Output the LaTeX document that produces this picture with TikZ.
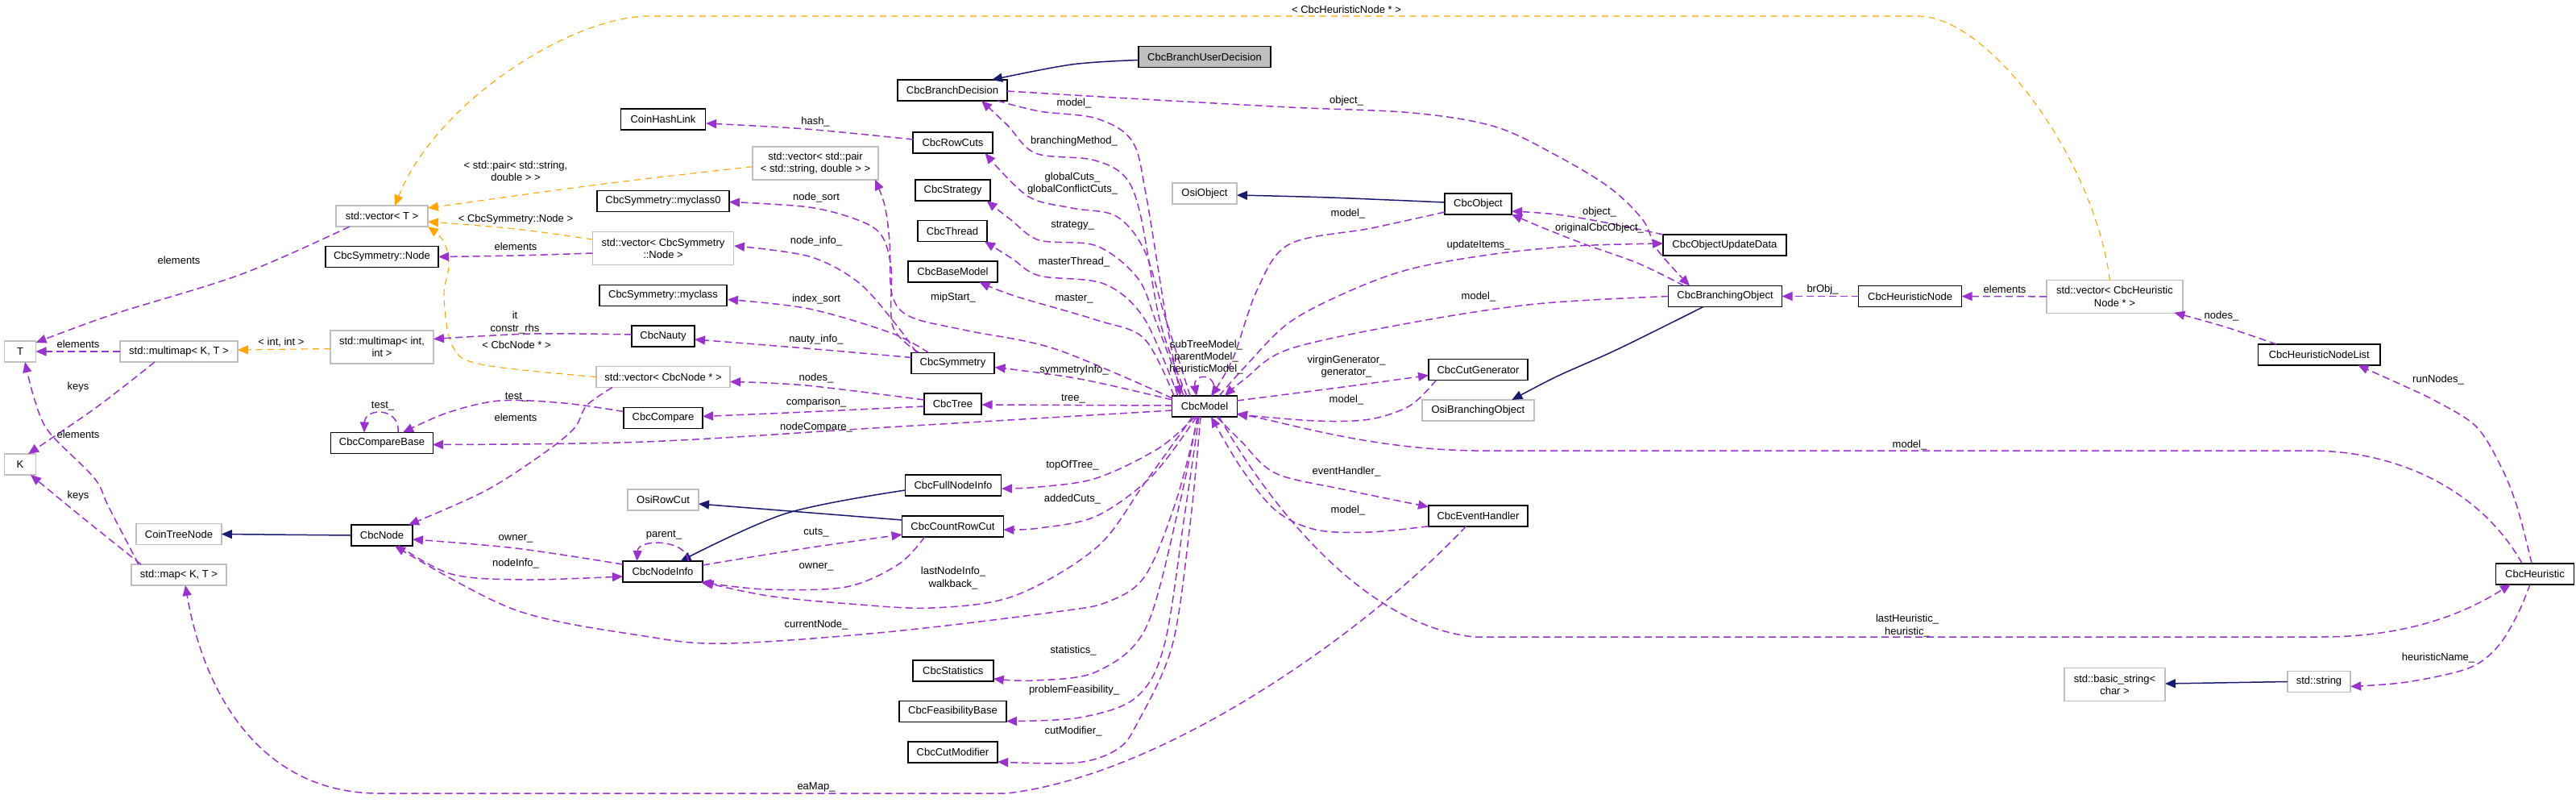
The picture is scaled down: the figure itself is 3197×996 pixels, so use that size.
\documentclass[tikz,border=0pt]{standalone}
\usepackage{fontspec}
\setmainfont{Liberation Sans}
\usetikzlibrary{arrows.meta,calc}
\definecolor{usec}{HTML}{9A32CD}
\definecolor{tmpl}{HTML}{FFA500}
\definecolor{inhc}{HTML}{191970}
\definecolor{graybd}{HTML}{BFBFBF}
\newcommand\dgfont{\fontsize{6.5pt}{7.6pt}\selectfont}
\tikzset{
 cls/.style={draw=black, line width=0.8pt, fill=white, minimum height=13pt, inner sep=0pt, font=\dgfont, minimum width=#1*0.5pt},
 ext/.style={cls=#1, draw=graybd},
 ext2/.style={ext=#1, minimum height=20.5pt, align=center},
 lbl/.style={font=\dgfont, inner sep=0pt, align=center},
 arrtip/.style={-{Triangle[length=6.5pt,width=5.5pt]}},
 uedge/.style={draw=usec, line width=0.75pt, dash pattern=on 4.5pt off 2.5pt, arrtip},
 tedge/.style={draw=tmpl, line width=0.55pt, dash pattern=on 4pt off 3pt, arrtip},
 iedge/.style={draw=inhc, line width=0.75pt, arrtip},
 sm/.style={smooth, tension=0.55}
}
\begin{document}
\begin{tikzpicture}[x=0.5pt,y=-0.5pt]
\fill[white] (0,0) rectangle (3197,996);
\useasboundingbox (0,0) rectangle (3197,996);
% ---------- nodes ----------
\node[ext=39] (T) at (25,436) {T};
\node[ext=39] (K) at (25,576) {K};
\node[ext=146] (mmKT) at (222,436) {std::multimap< K, T >};
\node[ext=118] (mapKT) at (222,713) {std::map< K, T >};
\node[ext=106] (ctn) at (222,662.5) {CoinTreeNode};
\node[ext=114] (vecT) at (474,268) {std::vector< T >};
\node[cls=140] (symnode) at (474,318.5) {CbcSymmetry::Node};
\node[ext2=128] (mmii) at (474,430.5) {std::multimap< int,\\ int >};
\node[cls=127] (ccb) at (474,549.5) {CbcCompareBase};
\node[cls=76] (cnode) at (474,664) {CbcNode};
\node[cls=105] (chl) at (823,148) {CoinHashLink};
\node[ext2=156] (vpair) at (1012,202.7) {std::vector< std::pair\\< std::string, double > >};
\node[cls=164] (myc0) at (823,249.5) {CbcSymmetry::myclass0};
\node[ext2=175] (vsymn) at (823,308) {std::vector< CbcSymmetry\\::Node >};
\node[cls=158] (myc) at (823,366.5) {CbcSymmetry::myclass};
\node[cls=78] (nauty) at (823,417) {CbcNauty};
\node[ext=166] (vcn) at (823,467.5) {std::vector< CbcNode * >};
\node[cls=98] (cmp) at (823,518.5) {CbcCompare};
\node[ext=88] (orc) at (823,620) {OsiRowCut};
\node[cls=99] (cni) at (822.5,709) {CbcNodeInfo};
\node[cls=164, fill=graybd] (cbud) at (1495,70.5) {CbcBranchUserDecision};
\node[cls=136] (cbd) at (1182,112) {CbcBranchDecision};
\node[cls=99] (crc) at (1182.5,177) {CbcRowCuts};
\node[cls=93] (strat) at (1182.5,236) {CbcStrategy};
\node[cls=86] (thread) at (1182,286.5) {CbcThread};
\node[cls=111] (base) at (1182.5,337) {CbcBaseModel};
\node[cls=103] (sym) at (1182.5,450.5) {CbcSymmetry};
\node[cls=71] (tree) at (1182.5,501) {CbcTree};
\node[cls=119] (cfni) at (1183,602) {CbcFullNodeInfo};
\node[cls=126] (ccrc) at (1182.5,653) {CbcCountRowCut};
\node[cls=100] (stats) at (1182.7,832) {CbcStatistics};
\node[cls=133] (feas) at (1182.5,882.5) {CbcFeasibilityBase};
\node[cls=111] (cutmod) at (1182.5,933) {CbcCutModifier};
\node[ext=80] (osiobj) at (1495,240) {OsiObject};
\node[cls=81] (model) at (1495,504) {CbcModel};
\node[cls=83] (obj) at (1834.5,253) {CbcObject};
\node[cls=123] (ccg) at (1834.5,458.5) {CbcCutGenerator};
\node[ext=139] (obo) at (1834.4,509) {OsiBranchingObject};
\node[cls=123] (ceh) at (1834.5,639.7) {CbcEventHandler};
\node[cls=153] (coud) at (2140.4,304) {CbcObjectUpdateData};
\node[cls=141] (cbo) at (2141,367.5) {CbcBranchingObject};
\node[cls=128] (chn) at (2370.6,367.5) {CbcHeuristicNode};
\node[ext2=169] (vchn) at (2624.4,367.8) {std::vector< CbcHeuristic\\Node * >};
\node[cls=151.5] (chnl) at (2878.3,440) {CbcHeuristicNodeList};
\node[cls=97] (heur) at (3146,711.7) {CbcHeuristic};
\node[ext2=125] (bstr) at (2624.5,849) {std::basic\_string<\\ char >};
\node[ext=78.5] (str) at (2878,845.5) {std::string};
% ---------- inheritance ----------
\draw[iedge] plot[sm] coordinates {($(cbud)+(-82,4)$) (1330,80) ($(cbd)+(49,-13)$)};
\draw[iedge] ($(cnode)+(-38,0)$) -- ($(ctn)+(53,0)$);
\draw[iedge] plot[sm] coordinates {($(cfni)+(-59.5,6)$) (975,637) ($(cni)+(22,-13)$)};
\draw[iedge] ($(ccrc)+(-63,-8)$) -- ($(orc)+(44,5)$);
\draw[iedge] ($(str)+(-39.25,0)$) -- ($(bstr)+(62.5,-1)$);
\draw[iedge] plot[sm] coordinates {($(cbo)+(-27,13)$) (2008,433) (1932,467) ($(obo)+(42,-13)$)};
\draw[iedge] plot[sm] coordinates {($(obj)+(-41.5,-2)$) (1650,245) ($(osiobj)+(40,2)$)};
% ---------- template edges ----------
\draw[tedge] ($(vchn)+(-6,-20)$) .. controls (2600,200) and (2470,20) .. (2380,20) -- (800,20) .. controls (700,25) and (540,130) .. ($(vecT)+(16,-13)$);
\draw[tedge] plot[sm] coordinates {($(vcn)+(-83,0)$) (597,452) (561,428) (551,367) (557,330) (551,300) ($(vecT)+(57,13)$)};
\draw[tedge] plot[sm] coordinates {($(vsymn)+(-87.5,-11)$) (640,284) ($(vecT)+(57,7)$)};
\draw[tedge] plot[sm] coordinates {($(vpair)+(-78,4)$) (750,228) ($(vecT)+(57,-10)$)};
\draw[tedge] ($(mmii)+(-64,2)$) -- ($(mmKT)+(73,-2)$);
% ---------- usage edges ----------
\draw[uedge] plot[sm] coordinates {($(cbd)+(56,13)$) (1290,138) (1361,147) (1405,175) (1422,240) (1448,400) ($(model)+(-30,-13)$)};
\draw[uedge] plot[sm] coordinates {($(model)+(-22,-13)$) (1440,400) (1415,265) (1395,218) (1355,198) (1285,190) (1250,155) ($(cbd)+(36,13)$)};
\draw[uedge] plot[sm] coordinates {($(model)+(-18,-13)$) (1445,390) (1420,310) (1385,268) (1330,258) (1275,243) ($(crc)+(40,13)$)};
\draw[uedge] plot[sm] coordinates {($(model)+(-26,-13)$) (1435,400) (1412,345) (1361,305) (1290,298) (1255,273) ($(strat)+(42,13)$)};
\draw[uedge] plot[sm] coordinates {($(model)+(-33,-13)$) (1420,395) (1370,352) (1290,342) (1255,320) ($(thread)+(40,13)$)};
\draw[uedge] plot[sm] coordinates {($(model)+(-38,-13)$) (1420,420) (1361,397) (1259,367) ($(base)+(33,13)$)};
\draw[uedge] plot[sm] coordinates {($(model)+(-40,-8)$) (1340,470) ($(sym)+(52,5)$)};
\draw[uedge] ($(model)+(-40,-1)$) -- ($(tree)+(36,1)$);
\draw[uedge] plot[sm] coordinates {($(model)+(-40,5)$) (1100,530) (800,548) ($(ccb)+(63,2)$)};
\draw[uedge] plot[sm] coordinates {($(model)+(-40,-10)$) (1310,433) (1200,410) (1130,393) (1107,365) (1104,300) (1098,255) ($(vpair)+(74,20)$)};
\draw[uedge] plot[sm] coordinates {($(sym)+(-45,-13)$) (1110,400) (1065,350) (1004,318) ($(vsymn)+(88,-3)$)};
\draw[uedge] plot[sm] coordinates {($(sym)+(-42,-13)$) (1108,405) (1106,333) (1094,292) (1065,273) (1004,257) ($(myc0)+(82,1)$)};
\draw[uedge] plot[sm] coordinates {($(sym)+(-30,-13)$) (1106,413) (1004,383) ($(myc)+(80,5)$)};
\draw[uedge] plot[sm] coordinates {($(sym)+(-51,-7)$) (1000,432) ($(nauty)+(39,4)$)};
\draw[uedge] plot[sm] coordinates {($(crc)+(-49,-4)$) (1000,160) ($(chl)+(53,5)$)};
\draw[uedge] plot[sm] coordinates {($(tree)+(-35.5,-5)$) (1000,478) ($(vcn)+(83,6)$)};
\draw[uedge] plot[sm] coordinates {($(tree)+(-35.5,3)$) (1000,511) ($(cmp)+(49,-2)$)};
\draw[uedge] plot[sm] coordinates {($(cmp)+(-49,-8)$) (700,500) (620,497) (555,512) ($(ccb)+(26,-13)$)};
\draw[uedge] ($(ccb)+(20,-13)$) .. controls (497,505) and (453,505) .. ($(ccb)+(-22,-13)$);
\draw[uedge] plot[sm] coordinates {($(vcn)+(-63,13)$) (728,503) (712,532) (668,567) (600,610) ($(cnode)+(33,-13)$)};
\draw[uedge] plot[sm] coordinates {($(nauty)+(-39,-2)$) (660,414) ($(mmii)+(64,-10)$)};
\draw[uedge] plot[sm] coordinates {($(vsymn)+(-87.5,6)$) (640,317) ($(symnode)+(70,0)$)};
\draw[uedge] plot[sm] coordinates {($(vecT)+(-40,13)$) (300,340) (140,390) ($(T)+(19.5,-11)$)};
\draw[uedge] ($(mmKT)+(-73,0)$) -- ($(T)+(19.5,0)$);
\draw[uedge] plot[sm] coordinates {($(mmKT)+(-30,13)$) (120,505) ($(K)+(10,-13)$)};
\draw[uedge] plot[sm] coordinates {($(mapKT)+(-47,-13)$) (100,640) ($(K)+(13,13)$)};
\draw[uedge] plot[sm] coordinates {($(mapKT)+(-50,-13)$) (135,629) (117,593) (61,536) (43,496) ($(T)+(6,13)$)};
\draw[uedge] plot[sm] coordinates {($(cni)+(-49.5,-9)$) (640,680) ($(cnode)+(38,5)$)};
\draw[uedge] plot[sm] coordinates {($(cnode)+(21,13)$) (560,712) (650,719) ($(cni)+(-49.5,6)$)};
\draw[uedge] ($(cni)+(32,-13)$) .. controls (852,668) and (792,668) .. ($(cni)+(-32,-13)$);
\draw[uedge] plot[sm] coordinates {($(cni)+(49.5,-8)$) (1000,680) ($(ccrc)+(-63,10)$)};
\draw[uedge] plot[sm] coordinates {($(ccrc)+(-35,13)$) (1115,700) (1050,728) (950,731) ($(cni)+(47,13)$)};
\draw[uedge] plot[sm] coordinates {($(model)+(-15,13)$) (1420,600) (1361,679) (1259,739) (1157,754) (1055,749) (953,739) ($(cni)+(50,13)$)};
\draw[uedge] plot[sm] coordinates {($(model)+(-8,13)$) (1460,620) (1422,713) (1376,746) (1310,759) (1100,784) (902,798) (800,789) (638,756) ($(cnode)+(16,13)$)};
\draw[uedge] plot[sm] coordinates {($(model)+(-12,13)$) (1438,556) (1361,593) (1290,604) ($(cfni)+(60,4)$)};
\draw[uedge] plot[sm] coordinates {($(model)+(-10,13)$) (1430,590) (1361,640) (1290,655) ($(ccrc)+(63,4)$)};
\draw[uedge] plot[sm] coordinates {($(model)+(-9,13)$) (1463,629) (1422,779) (1361,833) (1285,844) ($(stats)+(50,10)$)};
\draw[uedge] plot[sm] coordinates {($(model)+(-7,13)$) (1470,640) (1445,800) (1410,865) (1340,890) ($(feas)+(66.5,12)$)};
\draw[uedge] plot[sm] coordinates {($(model)+(-5,13)$) (1477,650) (1455,800) (1412,896) (1387,929) (1336,946) ($(cutmod)+(55.5,12)$)};
\draw[uedge] plot[sm] coordinates {($(cbd)+(68,1)$) (1400,122) (1600,133) (1753,140) (1855,157) (1932,193) (1998,233) (2039,273) (2057,310) ($(cbo)+(-44,-13)$)};
\draw[uedge] plot[sm] coordinates {($(cbo)+(-51,-13)$) (2034,327) (1967,303) (1916,283) ($(obj)+(41.5,13)$)};
\draw[uedge] plot[sm] coordinates {($(coud)+(-76.4,-13)$) (1998,277) (1932,266) ($(obj)+(41.5,9)$)};
\draw[uedge] plot[sm] coordinates {($(model)+(18,-13)$) (1545,455) (1600,400) (1677,360) (1753,333) (1855,315) (1957,305) ($(coud)+(-76.4,-2)$)};
\draw[uedge] plot[sm] coordinates {($(cbo)+(-70.5,0)$) (1906,377) (1753,400) (1600,433) (1545,470) ($(model)+(25,-13)$)};
\draw[uedge] plot[sm] coordinates {($(obj)+(-41.5,10)$) (1702,283) (1600,303) (1560,360) (1530,445) ($(model)+(8,-13)$)};
\draw[uedge] ($(model)+(10,-13)$) .. controls (1515,462) and (1480,462) .. ($(model)+(-10,-13)$);
\draw[uedge] plot[sm] coordinates {($(model)+(40,-7)$) (1667,480) ($(ccg)+(-61.5,7)$)};
\draw[uedge] plot[sm] coordinates {($(ccg)+(-52,13)$) (1750,503) (1700,520) (1633,522) ($(model)+(40,10)$)};
\draw[uedge] ($(heur)+(-16,-13)$) .. controls (3080,610) and (2980,560) .. (2870,559) -- (1830,559) .. controls (1700,557) and (1600,525) .. ($(model)+(40,9)$);
\draw[uedge] ($(model)+(18,13)$) .. controls (1560,600) and (1680,775) .. (1830,790) -- (2880,790) .. controls (2990,790) and (3060,760) .. ($(heur)+(-30,13)$);
\draw[uedge] plot[sm] coordinates {($(heur)+(-6,13)$) (3124,763) (3099,803) (3063,829) (2987,846) ($(str)+(39.25,6)$)};
\draw[uedge] plot[sm] coordinates {($(heur)+(-4,-13)$) (3124,629) (3104,579) (3073,529) (3022,497) (2971,473) ($(chnl)+(48,13)$)};
\draw[uedge] plot[sm] coordinates {($(chnl)+(-53,-13)$) (2760,405) ($(vchn)+(74,20)$)};
\draw[uedge] ($(vchn)+(-84.5,0)$) -- ($(chn)+(64,0)$);
\draw[uedge] ($(chn)+(-64,0)$) -- ($(cbo)+(70.5,0)$);
\draw[uedge] plot[sm] coordinates {($(model)+(15,13)$) (1540,547) (1583,587) (1667,607) ($(ceh)+(-61.5,-11)$)};
\draw[uedge] plot[sm] coordinates {($(ceh)+(-61.5,13)$) (1700,660) (1633,657) (1583,633) (1540,580) ($(model)+(8,13)$)};
\draw[uedge] ($(ceh)+(-15,13)$) .. controls (1700,780) and (1450,960) .. (1250,984) -- (470,984) .. controls (330,984) and (255,870) .. ($(mapKT)+(8,13)$);
% ---------- labels ----------
\node[lbl] (l1) at (1333,128) {model\_};
\node[lbl] (l2) at (1333,175) {branchingMethod\_};
\node[lbl] (l3) at (1331,228) {globalCuts\_\\globalConflictCuts\_};
\node[lbl] (l4) at (1331,280) {strategy\_};
\node[lbl] (l5) at (1333,325) {masterThread\_};
\node[lbl] (l6) at (1333,371) {master\_};
\node[lbl] (l7) at (1183,369) {mipStart\_};
\node[lbl] (l8) at (1333,459) {symmetryInfo\_};
\node[lbl] (l9) at (1332,495) {tree\_};
\node[lbl] (l10) at (1497,443) {subTreeModel\_\\parentModel\_\\heuristicModel\_};
\node[lbl] (l11) at (1012,151) {hash\_};
\node[lbl] (l12) at (1013,245) {node\_sort};
\node[lbl] (l13) at (1013,299) {node\_info\_};
\node[lbl] (l14) at (1013,371) {index\_sort};
\node[lbl] (l15) at (1013,421) {nauty\_info\_};
\node[lbl] (l16) at (1013,469) {nodes\_};
\node[lbl] (l17) at (1013,499) {comparison\_};
\node[lbl] (l18) at (1013,530) {nodeCompare\_};
\node[lbl] (l19) at (1331,577) {topOfTree\_};
\node[lbl] (l20) at (1331,619) {addedCuts\_};
\node[lbl] (l21) at (1013,661) {cuts\_};
\node[lbl] (l22) at (1013,703) {owner\_};
\node[lbl] (l23) at (1183,717) {lastNodeInfo\_\\walkback\_};
\node[lbl] (l24) at (1013,775) {currentNode\_};
\node[lbl] (l25) at (1332,807) {statistics\_};
\node[lbl] (l26) at (1333,856) {problemFeasibility\_};
\node[lbl] (l27) at (1332,907) {cutModifier\_};
\node[lbl] (l28) at (1013,976) {eaMap\_};
\node[lbl] (l29) at (640,668) {owner\_};
\node[lbl] (l30) at (640,699) {nodeInfo\_};
\node[lbl] (l31) at (824,664) {parent\_};
\node[lbl] (l32) at (475,504) {test\_};
\node[lbl] (l33) at (641,493) {test\_};
\node[lbl] (l34) at (640,518) {elements};
\node[lbl] (l35) at (641,428) {< CbcNode * >};
\node[lbl] (l36) at (639,400) {it\\constr\_rhs};
\node[lbl] (l37) at (640,306) {elements};
\node[lbl] (l38) at (640,272) {< CbcSymmetry::Node >};
\node[lbl] (l39) at (640,212) {< std::pair< std::string,\\double > >};
\node[lbl] (l40) at (349,425) {< int, int >};
\node[lbl] (l41) at (222,323) {elements};
\node[lbl] (l42) at (97,427) {elements};
\node[lbl] (l43) at (97,480) {keys};
\node[lbl] (l44) at (97,539) {elements};
\node[lbl] (l45) at (97,615) {keys};
\node[lbl] (l46) at (1671,12) {< CbcHeuristicNode * >};
\node[lbl] (l47) at (1671,125) {object\_};
\node[lbl] (l48) at (1673,265) {model\_};
\node[lbl] (l49) at (1985,263) {object\_};
\node[lbl] (l50) at (1985,283) {originalCbcObject\_};
\node[lbl] (l51) at (1835,304) {updateItems\_};
\node[lbl] (l52) at (1835,368) {model\_};
\node[lbl] (l53) at (1671,455) {virginGenerator\_\\generator\_};
\node[lbl] (l54) at (1671,496) {model\_};
\node[lbl] (l55) at (1671,585) {eventHandler\_};
\node[lbl] (l56) at (1673,633) {model\_};
\node[lbl] (l57) at (2370,552) {model\_};
\node[lbl] (l58) at (2367,776) {lastHeuristic\_\\heuristic\_};
\node[lbl] (l59) at (2262,359) {brObj\_};
\node[lbl] (l60) at (2488,359) {elements};
\node[lbl] (l61) at (2757,392) {nodes\_};
\node[lbl] (l62) at (3026,471) {runNodes\_};
\node[lbl] (l63) at (3026,816) {heuristicName\_};
\end{tikzpicture}
\end{document}
